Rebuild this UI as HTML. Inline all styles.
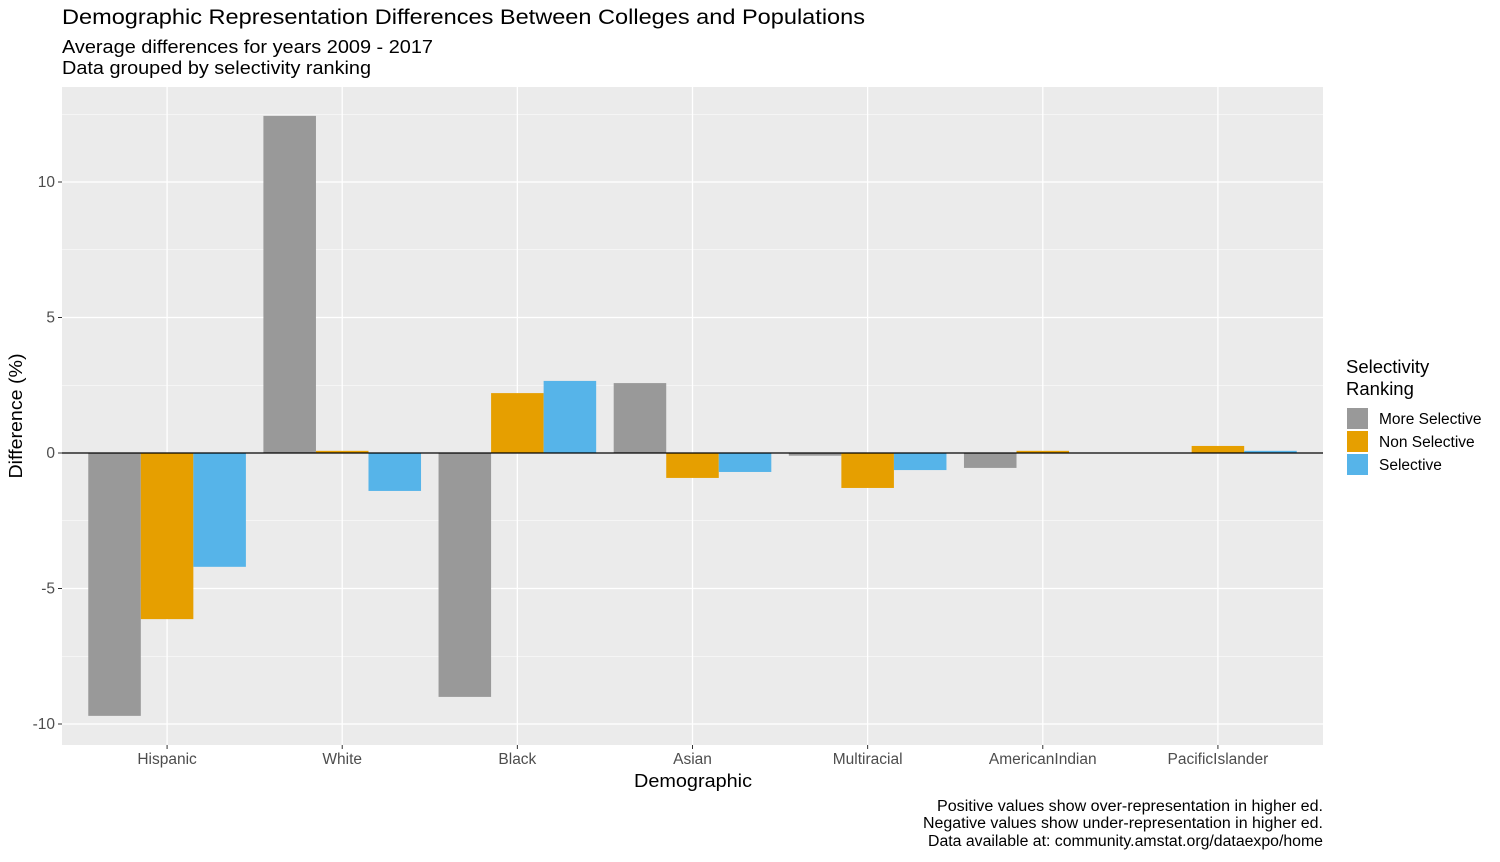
<!DOCTYPE html>
<html><head><meta charset="utf-8"><style>
body{margin:0;background:#fff;font-family:"Liberation Sans",sans-serif;}
svg text{font-family:"Liberation Sans",sans-serif;}
</style></head><body>
<svg id="chart" width="1500" height="857" xmlns="http://www.w3.org/2000/svg">
<text x="62" y="24" font-size="21.5" fill="#000" textLength="803" lengthAdjust="spacingAndGlyphs">Demographic Representation Differences Between Colleges and Populations</text>
<text x="62" y="53" font-size="18" fill="#000" textLength="371" lengthAdjust="spacingAndGlyphs">Average differences for years 2009 - 2017</text>
<text x="62" y="74" font-size="18" fill="#000" textLength="309" lengthAdjust="spacingAndGlyphs">Data grouped by selectivity ranking</text>
<rect x="62" y="87" width="1261" height="658" fill="#ebebeb"/>
<g id="grid"></g>
<g id="bars"></g>
<g id="axes"></g>
<text x="693" y="787" font-size="18.5" text-anchor="middle" textLength="118" lengthAdjust="spacingAndGlyphs">Demographic</text>
<text transform="translate(22,416) rotate(-90)" font-size="18.5" text-anchor="middle" textLength="125" lengthAdjust="spacingAndGlyphs">Difference (%)</text>
<text x="1346" y="373" font-size="18.5">Selectivity</text>
<text x="1346" y="395" font-size="18.5">Ranking</text>
<g id="legend"></g>
<g font-size="15.5" text-anchor="end">
<text x="1323" y="811" textLength="386" lengthAdjust="spacingAndGlyphs">Positive values show over-representation in higher ed.</text>
<text x="1323" y="828" textLength="400" lengthAdjust="spacingAndGlyphs">Negative values show under-representation in higher ed.</text>
<text x="1323" y="846" textLength="395" lengthAdjust="spacingAndGlyphs">Data available at: community.amstat.org/dataexpo/home</text>
</g>
</svg>
<script>
const categories=["Hispanic","White","Black","Asian","Multiracial","AmericanIndian","PacificIslander"];
const series=["More Selective","Non Selective","Selective"];
const colors=["#999999","#E69F00","#56B4E9"];
const moreSelective=[-9.7,12.44,-9.0,2.58,-0.1,-0.55,0];
const nonSelective=[-6.13,0.08,2.21,-0.92,-1.29,0.08,0.26];
const selective=[-4.2,-1.4,2.66,-0.7,-0.63,0,0.08];
const yTicks=[-10,-5,0,5,10];
const values=[moreSelective,nonSelective,selective];
const NS="http://www.w3.org/2000/svg";
const px0=62,px1=1323,py0=87,py1=745;
const y=v=>453-v*27.1;
const band=(px1-px0)/(categories.length-1+1.2);
const x=i=>px0+band*(i+0.6);
function mk(tag,attrs,parent){const e=document.createElementNS(NS,tag);for(const k in attrs)e.setAttribute(k,attrs[k]);parent.appendChild(e);return e;}
const grid=document.getElementById('grid'),bars=document.getElementById('bars'),axes=document.getElementById('axes'),legend=document.getElementById('legend');
const minors=[-12.5,-7.5,-2.5,2.5,7.5,12.5];
minors.forEach(m=>{if(y(m)>py0&&y(m)<py1){const l=mk('line',{x1:px0,x2:px1,y1:y(m),y2:y(m),stroke:'#fff','stroke-width':0.6},grid);}});
yTicks.forEach(t=>{const l=mk('line',{x1:px0,x2:px1,y1:y(t),y2:y(t),stroke:'#fff','stroke-width':1.3},grid);
const tk=mk('line',{x1:px0-4,x2:px0,y1:y(t),y2:y(t),stroke:'#333','stroke-width':1},axes);
const tx=mk('text',{x:px0-7,y:y(t)+5,'font-size':15.5,fill:'#4d4d4d','text-anchor':'end'},axes);tx.textContent=t;});
categories.forEach((c,i)=>{const l=mk('line',{x1:x(i),x2:x(i),y1:py0,y2:py1,stroke:'#fff','stroke-width':1.3},grid);
const tk=mk('line',{x1:x(i),x2:x(i),y1:py1,y2:py1+4,stroke:'#333','stroke-width':1},axes);
const tx=mk('text',{x:x(i),y:py1+19,'font-size':15.5,fill:'#4d4d4d','text-anchor':'middle'},axes);tx.textContent=c;});
const bw=band*0.9/3;
values.forEach((arr,s)=>arr.forEach((v,i)=>{const x0=x(i)-band*0.45+s*bw;const r=mk('rect',{x:x0,y:Math.min(y(v),y(0)),width:bw,height:Math.abs(y(v)-y(0)),fill:colors[s]},bars);}));
const zl=mk('line',{x1:px0,x2:px1,y1:y(0),y2:y(0),stroke:'#000','stroke-width':1.3},bars);
series.forEach((s,k)=>{const r=mk('rect',{x:1347,y:408+k*23,width:21,height:21,fill:colors[k]},legend);
const t=mk('text',{x:1379,y:424+k*23,'font-size':15.5},legend);t.textContent=s;});
</script>
</body></html>
